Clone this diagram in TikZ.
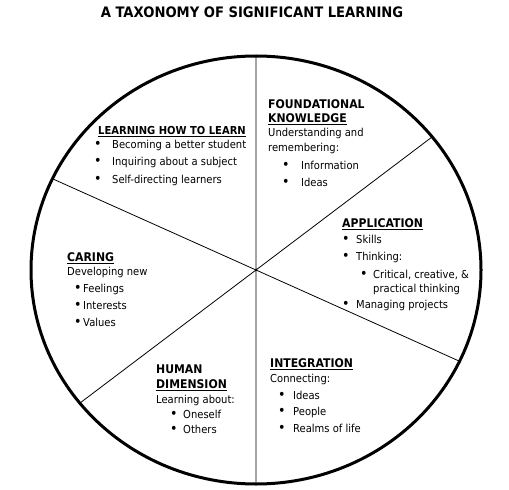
\documentclass[tikz,border=0pt]{standalone}
\usepackage{fontspec}
\setmainfont{DejaVu Sans}[FakeStretch=0.91]
\newcommand{\hd}[2][12]{{\fontsize{#1}{14}\selectfont\bfseries #2}}
\newcommand{\itm}[3]{\hspace*{#1bp}\makebox[#2bp][l]{\raisebox{-0.6bp}{\fontsize{14}{14}\selectfont\textbullet}}#3}
\tikzset{
  blk/.style={anchor=north west, inner sep=0pt, align=left, font=\fontsize{11}{14}\selectfont},
  spoke/.style={line width=0.8bp},
  rim/.style={line width=3bp}
}
\begin{document}
\begin{tikzpicture}[x=1bp, y=-1bp, line join=round, line cap=round]
	\useasboundingbox (0,0) rectangle (509,490);
	\path
	(256,270) coordinate (O)
	(256,56) coordinate (T)
	(256,484) coordinate (B)
	(53,179) coordinate (UL)
	(459,361) coordinate (LR)
	(432,137) coordinate (UR)
	(80,403) coordinate (LL)
	;
	\draw[spoke] (T)--(B) (UL)--(LR) (UR)--(LL);
	\draw[rim] (O) ellipse [x radius=225, y radius=214];
	
	\node[anchor=base, inner sep=0pt, font=\fontsize{14.5}{18}\selectfont\bfseries] (title) at (252,18) {A TAXONOMY OF SIGNIFICANT LEARNING};
	
	\node[blk] (learn) at (98,126) {\hd[11]{\underline{LEARNING HOW TO LEARN}}\\
		\itm{-4}{18}{Becoming a better student}\\[3bp]
		\itm{-4}{18}{Inquiring about a subject}\\[4bp]
		\itm{-4}{18}{Self-directing learners}};
	\node[blk] (found) at (268,99.3) {\hd{FOUNDATIONAL}\\
		\hd{\underline{KNOWLEDGE}}\\
		Understanding and\\[1bp]
		remembering:\\[4bp]
		\itm{14}{19}{Information}\\[3bp]
		\itm{14}{19}{Ideas}};
	\node[blk] (appl) at (342,218.3) {\hd{\underline{APPLICATION}}\\[2bp]
		\itm{0}{14}{Skills}\\[3bp]
		\itm{0}{14}{Thinking:}\\[4bp]
		\itm{18}{13}{Critical, creative, \&}\\
		\hspace*{31bp}practical thinking\\[2bp]
		\itm{0}{14}{Managing projects}};
	\node[blk] (caring) at (67,252.3) {\hd{\underline{CARING}}\\
		Developing new\\[3bp]
		\itm{7}{9}{Feelings}\\[3bp]
		\itm{7}{9}{Interests}\\[3bp]
		\itm{7}{9}{Values}};
	\node[blk] (human) at (156,364.3) {\hd{HUMAN}\\[1bp]
		\hd{\underline{DIMENSION}}\\[1bp]
		Learning about:\\[1bp]
		\itm{14}{13}{Oneself}\\[1bp]
		\itm{14}{13}{Others}};
	\node[blk] (integ) at (270,358.3) {\hd{\underline{INTEGRATION}}\\[1bp]
		Connecting:\\[3bp]
		\itm{8}{15}{Ideas}\\[2bp]
		\itm{8}{15}{People}\\[3bp]
		\itm{8}{15}{Realms of life}};
\end{tikzpicture}
\end{document}
